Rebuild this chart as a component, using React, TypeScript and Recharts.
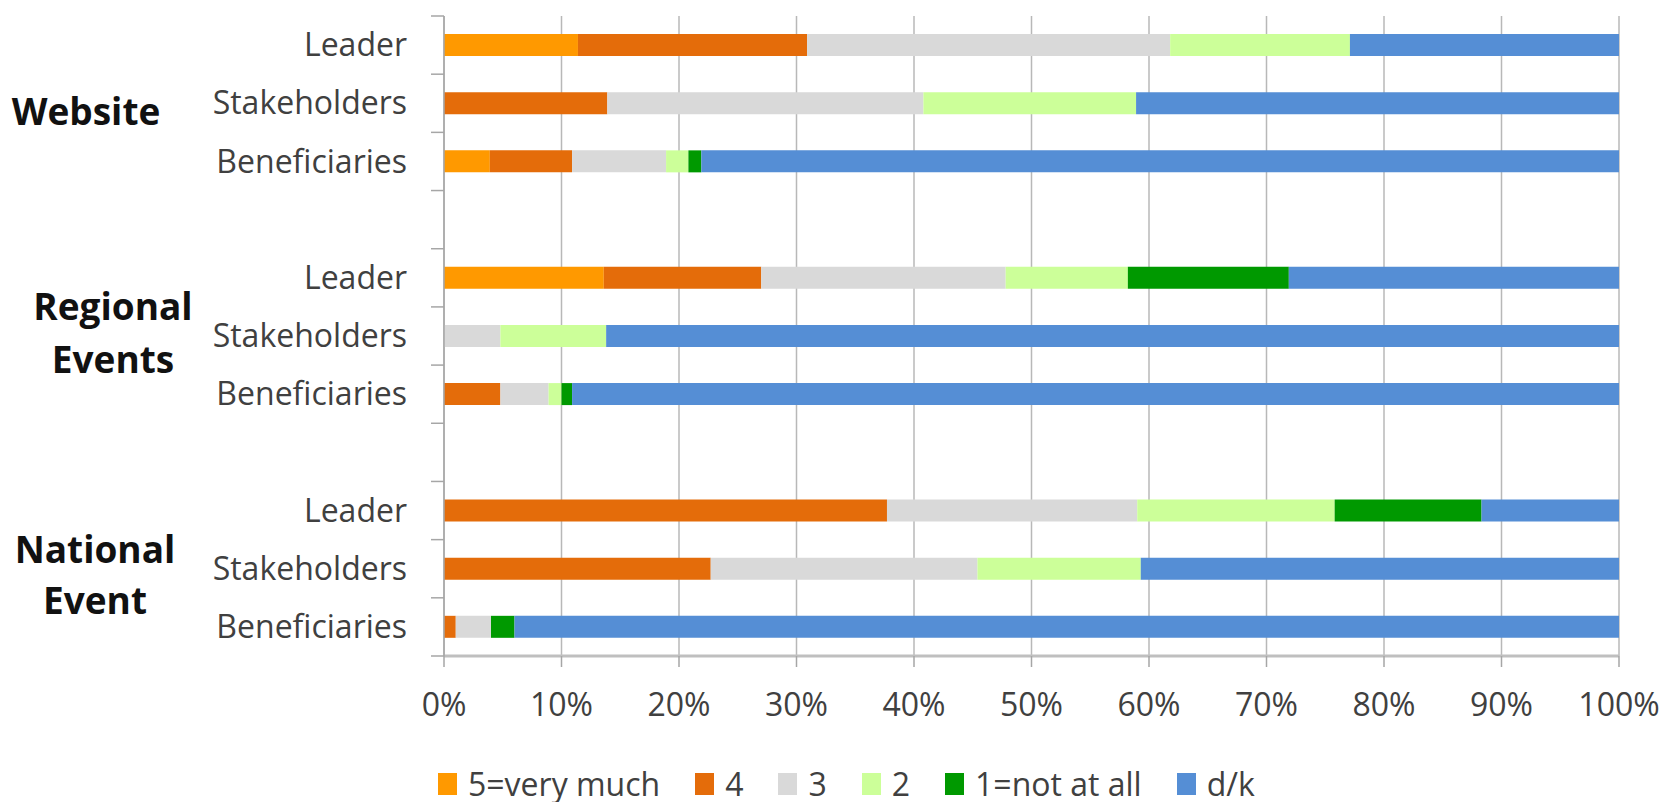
import { BarChart, Bar, XAxis, YAxis, CartesianGrid, Legend } from 'recharts'

// rows top to bottom, '' = spacer row between groups
const rowLabels = ['Leader', 'Stakeholders', 'Beneficiaries', '', 'Leader', 'Stakeholders', 'Beneficiaries', '', 'Leader', 'Stakeholders', 'Beneficiaries']
const groupNames = [['Website'], ['Regional', 'Events'], ['National', 'Event']]

const veryMuch = [11.4, 0, 3.9, null, 13.6, 0, 0, null, 0, 0, 0]
const four = [19.5, 13.9, 7.0, null, 13.4, 0, 4.8, null, 37.7, 22.7, 1.0]
const three = [30.9, 26.9, 8.0, null, 20.8, 4.8, 4.1, null, 21.3, 22.7, 3.0]
const two = [15.3, 18.1, 1.9, null, 10.4, 9.0, 1.1, null, 16.8, 13.9, 0]
const notAtAll = [0, 0, 1.1, null, 13.7, 0, 0.9, null, 12.5, 0, 2.0]
const dontKnow = [22.9, 41.1, 78.1, null, 28.1, 86.2, 89.1, null, 11.7, 40.7, 94.0]

const xTicks = [0, 10, 20, 30, 40, 50, 60, 70, 80, 90, 100]

const seriesNames = ['5=very much', '4', '3', '2', '1=not at all', 'd/k']
const seriesColors = ['#FF9900', '#E46C0A', '#D9D9D9', '#CCFF99', '#009900', '#558ED5']
const seriesValues = [veryMuch, four, three, two, notAtAll, dontKnow]

const data = rowLabels.map((label, i) => {
  const row: Record<string, any> = { key: `r${i}`, label }
  seriesValues.forEach((vals, s) => { row[`s${s}`] = vals[i] })
  return row
})

const W = 1668
const H = 802
const TOP = 16
const PLOT_LEFT = 444
const PLOT_BOTTOM = 656
const X_AXIS_H = 60
const BAND = (PLOT_BOTTOM - TOP) / rowLabels.length
const FONT = '"Open Sans", "Noto Sans", sans-serif'
const TEXT = '#404040'
const AXIS = '#a6a6a6'

// where the bold group labels sit, relative to the middle row of each group
const groupLayout = [
  { x: 86, dy: [22] },
  { x: 113, dy: [-16, 37] },
  { x: 95, dy: [-6, 45] },
]

const YTick = (props: any) => {
  const { payload, index } = props
  const y = payload.coordinate
  const label = rowLabels[index]
  const group = Math.floor(index / 4)
  const isMiddle = index % 4 === 1
  return (
    <g>
      <line x1={PLOT_LEFT - 13} x2={PLOT_LEFT} y1={y - BAND / 2} y2={y - BAND / 2} stroke={AXIS} strokeWidth={1.5} />
      {index === rowLabels.length - 1 && (
        <line x1={PLOT_LEFT - 13} x2={PLOT_LEFT} y1={y + BAND / 2} y2={y + BAND / 2} stroke={AXIS} strokeWidth={1.5} />
      )}
      {label && (
        <text x={PLOT_LEFT - 37} y={y} dy="0.35em" textAnchor="end" fontSize={32} fontFamily={FONT} fill={TEXT}>
          {label}
        </text>
      )}
      {isMiddle && groupNames[group].map((line, k) => (
        <text key={k} x={groupLayout[group].x} y={y + groupLayout[group].dy[k]} textAnchor="middle" fontSize={37} fontWeight="bold" fontFamily={FONT} fill="#111">
          {line}
        </text>
      ))}
    </g>
  )
}

const LegendContent = () => (
  <div style={{ display: 'flex', alignItems: 'center', fontFamily: FONT, fontSize: 32, color: TEXT, whiteSpace: 'nowrap' }}>
    {seriesNames.map((name, i) => (
      <div key={name} style={{ display: 'flex', alignItems: 'center', marginRight: 35 }}>
        <span style={{ display: 'inline-block', width: 19, height: 22, background: seriesColors[i], marginRight: 11 }} />
        <span style={{ lineHeight: '34px' }}>{name}</span>
      </div>
    ))}
  </div>
)

export default function App() {
  return (
    <div style={{ position: 'absolute', left: 0, top: 0, width: W, height: H, background: '#fff' }}>
      <BarChart
        width={W}
        height={H}
        data={data}
        layout="vertical"
        margin={{ top: TOP, right: W - 1619, bottom: H - PLOT_BOTTOM - X_AXIS_H, left: 0 }}
      >
        <CartesianGrid horizontal={false} stroke="#b8b8b8" strokeWidth={1.5} />
        <XAxis
          type="number"
          domain={[0, 100]}
          ticks={xTicks}
          interval={0}
          height={X_AXIS_H}
          tickFormatter={(v: number) => `${v}%`}
          tick={{ fontSize: 32, fill: TEXT, fontFamily: FONT }}
          tickSize={11}
          tickMargin={26}
          axisLine={{ stroke: '#bfbfbf', strokeWidth: 3 }}
          tickLine={{ stroke: AXIS, strokeWidth: 1.5 }}
        />
        <YAxis
          type="category"
          dataKey="key"
          width={PLOT_LEFT}
          interval={0}
          tick={<YTick />}
          tickLine={false}
          axisLine={{ stroke: AXIS, strokeWidth: 1.5 }}
        />
        <Legend
          verticalAlign="middle"
          align="center"
          layout="horizontal"
          content={<LegendContent />}
          wrapperStyle={{ top: 767, left: 438, width: 900 }}
        />
        {seriesNames.map((name, i) => (
          <Bar key={name} dataKey={`s${i}`} name={name} stackId="a" fill={seriesColors[i]} barSize={22} isAnimationActive={false} />
        ))}
      </BarChart>
    </div>
  )
}
